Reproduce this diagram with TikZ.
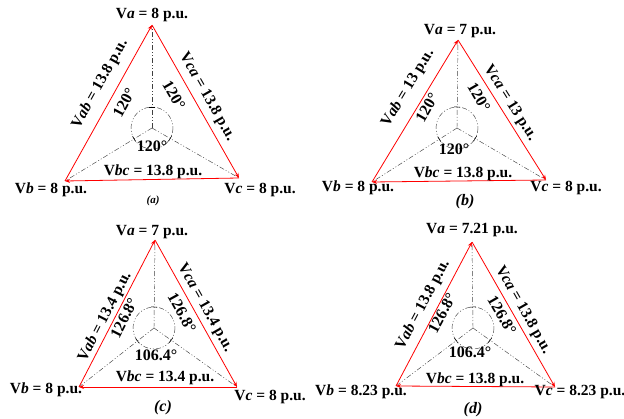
\documentclass[tikz,border=0pt]{standalone}
\usepackage{fontspec}
\setmainfont{Liberation Serif}
\usetikzlibrary{arrows.meta,calc}

\tikzset{
  phase/.style={red, line width=0.8pt, -{Stealth[length=5pt,width=4pt]}},
  radial/.style={black!75, line width=0.45pt, dash pattern=on 5pt off 2pt on 1pt off 2pt on 1pt off 2pt},
  ticks/.style={black, line width=0.5pt},
  lbl/.style={font=\fontsize{15.5}{17}\selectfont\bfseries, inner sep=0pt},
  ang/.style={font=\fontsize{16}{18}\selectfont\bfseries, inner sep=0pt},
  panelcap/.style={font=\fontsize{16}{18}\selectfont\bfseries\itshape, inner sep=0pt},
}

\begin{document}
\begin{tikzpicture}[x=1pt,y=-1pt]
  \useasboundingbox (0,0) rectangle (624,419);

  % (a) balanced
  \coordinate (aO) at (152,128);
  \coordinate (aA) at (152,25);
  \coordinate (aB) at (65,181);
  \coordinate (aC) at (239,178);
  \draw[radial] (aO) circle[radius=21];
  \foreach \v in {aA,aB,aC} {
    \draw[radial] (aO) -- (\v);
    \draw[ticks] ($(aO)!21pt!(\v)!3pt!90:(\v)$) -- ($(aO)!21pt!(\v)!3pt!-90:(\v)$);
  }
  \draw[phase] (aC) -- (aB);
  \draw[phase] (aB) -- (aA);
  \draw[phase] (aA) -- (aC);
  \node[lbl] (aVa) at (152,15) {V\textit{a} = 8 p.u.};
  \node[lbl] (aVb) at (51,190) {V\textit{b} = 8 p.u.};
  \node[lbl] (aVc) at (260,190) {V\textit{c} = 8 p.u.};
  \node[lbl] (aVbc) at (153,172) {V\textit{bc} = 13.8 p.u.};
  \node[lbl, rotate=60.8] (aVab) at (100,84) {V\textit{ab} = 13.8 p.u.};
  \node[lbl, rotate=-60.4] (aVca) at (207,97) {V\textit{ca} = 13.8 p.u.};
  \node[ang, rotate=62] (aTab) at (124,103) {120°};
  \node[ang, rotate=-60] (aTca) at (174,95) {120°};
  \node[ang] (aTbc) at (152,146) {120°};
  \node[panelcap, font=\fontsize{11}{13}\selectfont\bfseries\itshape] (aCap) at (153,201) {(a)};

  % (b) sag on phase a
  \coordinate (bO) at (457,128);
  \coordinate (bA) at (458,40);
  \coordinate (bB) at (372,182);
  \coordinate (bC) at (546,180);
  \draw[radial] (bO) circle[radius=21];
  \foreach \v in {bA,bB,bC} {
    \draw[radial] (bO) -- (\v);
    \draw[ticks] ($(bO)!21pt!(\v)!3pt!90:(\v)$) -- ($(bO)!21pt!(\v)!3pt!-90:(\v)$);
  }
  \draw[phase] (bC) -- (bB);
  \draw[phase] (bB) -- (bA);
  \draw[phase] (bA) -- (bC);
  \node[lbl] (bVa) at (460,31) {V\textit{a} = 7 p.u.};
  \node[lbl] (bVb) at (358,188) {V\textit{b} = 8 p.u.};
  \node[lbl] (bVc) at (566,188) {V\textit{c} = 8 p.u.};
  \node[lbl] (bVbc) at (463,174) {V\textit{bc} = 13.8 p.u.};
  \node[lbl, rotate=58.8] (bVab) at (408,88) {V\textit{ab} = 13 p.u.};
  \node[lbl, rotate=-57.8] (bVca) at (510,103) {V\textit{ca} = 13 p.u.};
  \node[ang, rotate=60] (bTab) at (427,108) {120°};
  \node[ang, rotate=-60] (bTca) at (479,97) {120°};
  \node[ang] (bTbc) at (454,149) {120°};
  \node[panelcap] (bCap) at (465,202) {(b)};

  % (c) sag with phase shift
  \coordinate (cO) at (154,328);
  \coordinate (cA) at (155,240);
  \coordinate (cB) at (79,387);
  \coordinate (cC) at (237,387);
  \draw[radial] (cO) circle[radius=21];
  \foreach \v in {cA,cB,cC} {
    \draw[radial] (cO) -- (\v);
    \draw[ticks] ($(cO)!21pt!(\v)!3pt!90:(\v)$) -- ($(cO)!21pt!(\v)!3pt!-90:(\v)$);
  }
  \draw[phase] (cC) -- (cB);
  \draw[phase] (cB) -- (cA);
  \draw[phase] (cA) -- (cC);
  \node[lbl] (cVa) at (152,232) {V\textit{a} = 7 p.u.};
  \node[lbl] (cVb) at (46,390) {V\textit{b} = 8 p.u.};
  \node[lbl] (cVc) at (270,397) {V\textit{c} = 8 p.u.};
  \node[lbl] (cVbc) at (165,378) {V\textit{bc} = 13.4 p.u.};
  \node[lbl, rotate=62.7] (cVab) at (105,317) {V\textit{ab} = 13.4 p.u.};
  \node[lbl, rotate=-60.8] (cVca) at (205,308) {V\textit{ca} = 13.4 p.u.};
  \node[ang, rotate=63] (cTab) at (124,318) {126.8°};
  \node[ang, rotate=-61] (cTca) at (182,313) {126.8°};
  \node[ang] (cTbc) at (156,355) {106.4°};
  \node[panelcap] (cCap) at (163,408) {(c)};

  % (d) compensated
  \coordinate (dO) at (473,328);
  \coordinate (dA) at (472,242);
  \coordinate (dB) at (396,386);
  \coordinate (dC) at (555,387);
  \draw[radial] (dO) circle[radius=21];
  \foreach \v in {dA,dB,dC} {
    \draw[radial] (dO) -- (\v);
    \draw[ticks] ($(dO)!21pt!(\v)!3pt!90:(\v)$) -- ($(dO)!21pt!(\v)!3pt!-90:(\v)$);
  }
  \draw[phase] (dC) -- (dB);
  \draw[phase] (dB) -- (dA);
  \draw[phase] (dA) -- (dC);
  \node[lbl] (dVa) at (472,230) {V\textit{a} = 7.21 p.u.};
  \node[lbl] (dVb) at (361,392) {V\textit{b} = 8.23 p.u.};
  \node[lbl] (dVc) at (580,392) {V\textit{c} = 8.23 p.u.};
  \node[lbl] (dVbc) at (475,380) {V\textit{bc} = 13.8 p.u.};
  \node[lbl, rotate=62.2] (dVab) at (423,305) {V\textit{ab} = 13.8 p.u.};
  \node[lbl, rotate=-60.2] (dVca) at (523,310) {V\textit{ca} = 13.8 p.u.};
  \node[ang, rotate=62] (dTab) at (442,313) {126.8°};
  \node[ang, rotate=-60] (dTca) at (502,315) {126.8°};
  \node[ang] (dTbc) at (470,352) {106.4°};
  \node[panelcap] (dCap) at (473,410) {(d)};
\end{tikzpicture}
\end{document}
